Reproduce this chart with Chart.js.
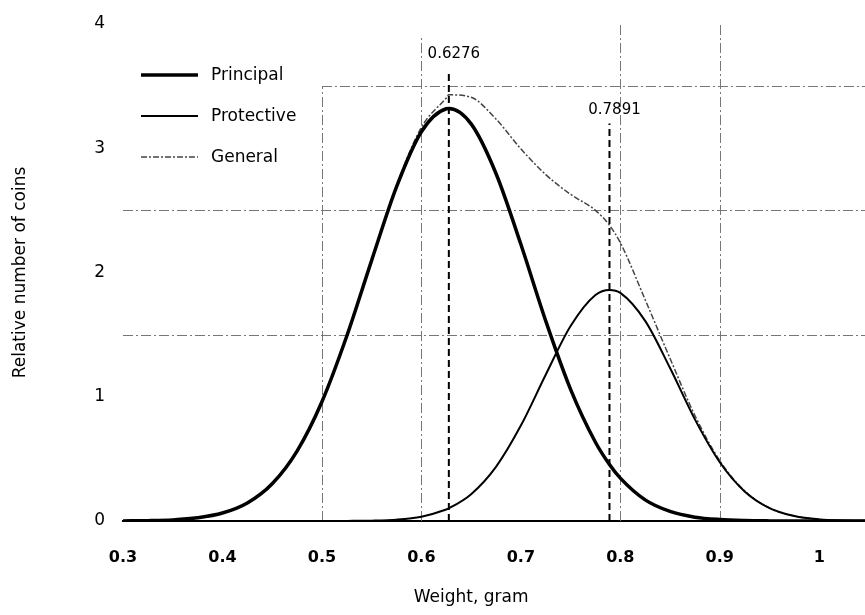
<!DOCTYPE html>
<html>
<head>
<meta charset="utf-8">
<script src="https://cdn.jsdelivr.net/npm/chart.js@4.4.1/dist/chart.umd.min.js"></script>
<style>
  html, body { margin:0; padding:0; background:#fff; }
  #wrap { width:865px; height:615px; position:relative; }
</style>
</head>
<body>
<div id="wrap"><canvas id="chart"></canvas></div>
<script>
const FONT = '"DejaVu Sans",sans-serif';

// values
const weights    = [0.300,0.325,0.350,0.375,0.400,0.425,0.450,0.475,0.500,0.525,0.550,0.575,0.600,0.625,0.6276,0.650,0.675,0.700,0.725,0.750,0.775,0.7891,0.800,0.825,0.850,0.875,0.900,0.925,0.950,0.975,1.000,1.025,1.050];
const principal  = [0.001,0.003,0.009,0.026,0.064,0.145,0.300,0.563,0.960,1.489,2.098,2.689,3.133,3.318,3.320,3.196,2.797,2.227,1.611,1.060,0.634,0.455,0.345,0.170,0.077,0.031,0.012,0.004,0.001,0,0,0,0];
const protective = [0,0,0,0,0,0,0,0,0,0.001,0.003,0.011,0.035,0.093,0.102,0.216,0.436,0.768,1.177,1.569,1.819,1.860,1.836,1.611,1.231,0.818,0.473,0.238,0.104,0.040,0.013,0.004,0.001];
const general    = [0.001,0.003,0.009,0.026,0.064,0.145,0.300,0.563,0.960,1.490,2.101,2.700,3.168,3.405,3.430,3.410,3.235,2.995,2.788,2.629,2.500,2.380,2.240,1.781,1.308,0.849,0.485,0.242,0.105,0.040,0.013,0.004,0.001];
const seriesNames = ['Principal', 'Protective', 'General'];

const markerX      = [0.6276, 0.7891];
const markerTop    = [3.6, 3.2];
const markerLabelY = [3.76, 3.31];
const markerLabels = ['0.6276', '0.7891'];

const xTicks = [0.3, 0.4, 0.5, 0.6, 0.7, 0.8, 0.9, 1];
const yTicks = [0, 1, 2, 3, 4];
const gridX = [0.5, 0.6, 0.8, 0.9];
const gridXTop = [3.5, 3.9, 4, 4];
const gridY = [1.5, 2.5, 3.5];
const gridYStart = [0.3, 0.3, 0.5];

const pts = ys => weights.map((w, i) => ({ x: w, y: ys[i] }));

const styles = [
  { borderColor:'#000', borderWidth:3.5, borderDash:[] },
  { borderColor:'#000', borderWidth:2, borderDash:[] },
  { borderColor:'#444', borderWidth:1.5, borderDash:[6,2,2,2] },
];

const datasets = [principal, protective, general].map((ys, i) => ({
  label: seriesNames[i], data: pts(ys), pointRadius:0, cubicInterpolationMode:'monotone', fill:false, ...styles[i]
}));
markerX.forEach((m, i) => datasets.push({
  label: 'marker' + i, data: [{ x:m, y:0 }, { x:m, y:markerTop[i] }],
  borderColor:'#000', borderWidth:2, borderDash:[7,4], pointRadius:0, fill:false
}));

const gridPlugin = {
  id:'dashGrid',
  beforeDatasetsDraw(chart){
    const { ctx, scales:{ x, y }, chartArea } = chart;
    ctx.save();
    ctx.strokeStyle = '#777'; ctx.lineWidth = 1; ctx.setLineDash([10,3,2,3]);
    gridX.forEach((g, i) => {
      const px = Math.round(x.getPixelForValue(g)) + 0.5;
      ctx.beginPath(); ctx.moveTo(px, y.getPixelForValue(0)); ctx.lineTo(px, y.getPixelForValue(gridXTop[i])); ctx.stroke();
    });
    gridY.forEach((g, i) => {
      const py = Math.round(y.getPixelForValue(g)) + 0.5;
      ctx.beginPath(); ctx.moveTo(x.getPixelForValue(gridYStart[i]), py); ctx.lineTo(chartArea.right, py); ctx.stroke();
    });
    ctx.restore();
  },
  afterDraw(chart){
    const { ctx, scales:{ x, y } } = chart;
    ctx.save();
    ctx.fillStyle = '#000'; ctx.textAlign = 'center'; ctx.textBaseline = 'middle';
    ctx.font = `15px ${FONT}`;
    markerLabels.forEach((t, i) => ctx.fillText(t, x.getPixelForValue(markerX[i]) + 5, y.getPixelForValue(markerLabelY[i])));

    // legend inside the plot
    ctx.textAlign = 'left';
    ctx.font = `17px ${FONT}`;
    seriesNames.forEach((name, i) => {
      const ds = chart.data.datasets[i];
      const ly = 75 + i * 41;
      ctx.strokeStyle = ds.borderColor; ctx.lineWidth = ds.borderWidth; ctx.setLineDash(ds.borderDash);
      ctx.beginPath(); ctx.moveTo(141, ly); ctx.lineTo(198, ly); ctx.stroke();
      ctx.setLineDash([]);
      ctx.fillText(name, 211, ly + 1);
    });

    // x title centred under the labelled range
    ctx.textAlign = 'center';
    ctx.font = `17px ${FONT}`;
    const cx = (x.getPixelForValue(xTicks[0]) + x.getPixelForValue(xTicks[xTicks.length - 1])) / 2;
    ctx.fillText('Weight, gram', cx, 598);
    ctx.restore();
  }
};

new Chart(document.getElementById('chart'), {
  type:'line',
  data:{ datasets },
  plugins:[gridPlugin],
  options:{
    responsive:true, maintainAspectRatio:false, animation:false,
    layout:{ padding:{ top:24, right:0, bottom:0, left:0 } },
    plugins:{ legend:{ display:false }, tooltip:{ enabled:false } },
    scales:{
      x:{
        type:'linear', min:0.3, max:1.046,
        afterBuildTicks: s => { s.ticks = xTicks.map(v => ({ value:v })); },
        afterFit: s => { s.height = 94; },
        grid:{ display:false },
        border:{ display:true, color:'#000', width:2 },
        ticks:{ color:'#000', padding:19, font:{ family:FONT, size:16, weight:'bold' }, maxRotation:0,
          callback: v => String(v) }
      },
      y:{
        min:0, max:4,
        afterBuildTicks: s => { s.ticks = yTicks.map(v => ({ value:v })); },
        afterFit: s => { s.width = 123; },
        grid:{ display:false },
        border:{ display:false },
        ticks:{ color:'#000', padding:10, font:{ family:FONT, size:17 } },
        title:{ display:true, text:'Relative number of coins', color:'#000', padding:{ top:10 }, font:{ family:FONT, size:17 } }
      }
    }
  }
});
</script>
</body>
</html>
